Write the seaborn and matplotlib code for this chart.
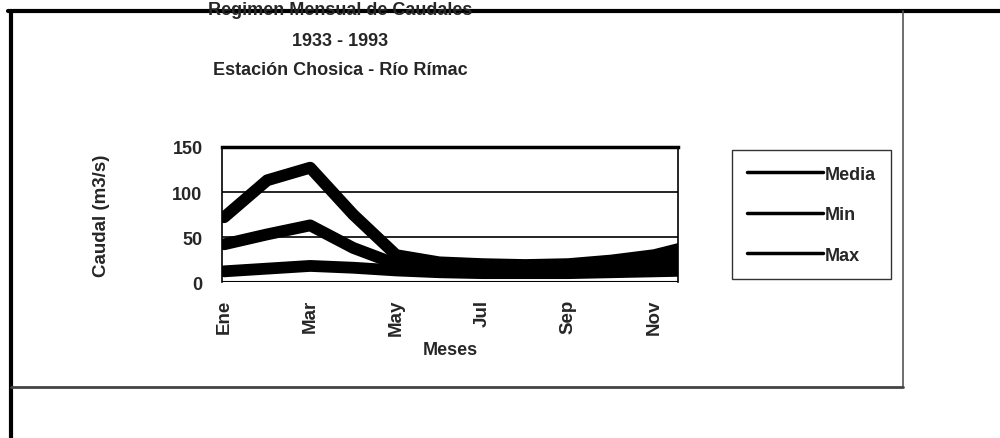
import numpy as np
import pandas as pd
import matplotlib.pyplot as plt
import seaborn as sns
from matplotlib.lines import Line2D

sns.set_theme(style='white')
plt.rcParams['font.family'] = ['Liberation Sans', 'DejaVu Sans']

meses = ['Ene', 'Feb', 'Mar', 'Abr', 'May', 'Jun', 'Jul', 'Ago', 'Sep', 'Oct', 'Nov', 'Dic']
media = [42, 53, 63, 38, 20, 16, 14, 13, 13, 15, 18, 30]
minimo = [12, 15, 18, 16, 13, 11, 10, 10, 10, 11, 12, 13]
maximo = [72, 113, 127, 75, 30, 22, 20, 19, 20, 24, 30, 42]

df = pd.DataFrame({
    'mes': list(range(12)) * 3,
    'caudal': media + minimo + maximo,
    'serie': ['Media'] * 12 + ['Min'] * 12 + ['Max'] * 12,
})


def main() -> None:

    fig = plt.figure(figsize=(10, 4.39), dpi=100)
    ax = fig.add_axes([0.222, 0.355, 0.456, 0.308])

    sns.lineplot(data=df, x='mes', y='caudal', hue='serie',
                 palette=['black', 'black', 'black'], linewidth=8.5,
                 ax=ax, legend=False)

    ax.set_xlim(-0.05, 10.55)
    ax.set_ylim(0, 150)
    ax.set_yticks([0, 50, 100, 150])
    ax.yaxis.grid(True, color='black', linewidth=1.2)
    ax.set_xticks(range(0, 12, 2))
    ax.set_xticklabels(meses[::2], rotation=90, fontsize=13.5, fontweight='bold')
    for t in ax.get_yticklabels():
        t.set_fontsize(13)
        t.set_fontweight('bold')
    ax.tick_params(axis='x', length=4, pad=8)
    ax.tick_params(axis='y', length=0, pad=14)
    ax.spines['bottom'].set_visible(False)
    ax.spines['top'].set_linewidth(2.5)
    ax.spines['left'].set_linewidth(1.2)
    ax.spines['right'].set_linewidth(1.2)
    for s in ['top', 'left', 'right']:
        ax.spines[s].set_color('black')
    ax.axhline(0, color='black', linewidth=1.5, zorder=5)

    ax.set_xlabel('Meses', fontsize=13, fontweight='bold', labelpad=4)
    ax.set_ylabel('Caudal (m3/s)', fontsize=13.5, fontweight='bold', labelpad=45)

    handles = [Line2D([0], [0], color='black', linewidth=2.5) for _ in range(3)]
    leg = fig.legend(handles, ['Media', 'Min', 'Max'], loc='upper left',
                     bbox_to_anchor=(0.732, 0.655), frameon=True, fancybox=False,
                     prop={'weight': 'bold', 'size': 13},
                     handlelength=4.2, labelspacing=1.3, borderpad=0.85,
                     handletextpad=0.1, borderaxespad=0)
    leg.get_frame().set_edgecolor('black')
    leg.get_frame().set_linewidth(1)

    fig.text(0.34, 0.975, 'Regimen Mensual de Caudales', ha='center', va='center',
             fontsize=13, fontweight='bold')
    fig.text(0.34, 0.905, '1933 - 1993', ha='center', va='center',
             fontsize=13, fontweight='bold')
    fig.text(0.34, 0.84, 'Estación Chosica - Río Rímac', ha='center', va='center',
             fontsize=13, fontweight='bold')

    # marco exterior
    fig.add_artist(Line2D([0.008, 1.0], [0.973, 0.973], color='black', linewidth=3))
    fig.add_artist(Line2D([0.011, 0.011], [0.0, 0.973], color='black', linewidth=3))
    fig.add_artist(Line2D([0.903, 0.903], [0.116, 0.973], color='#555555', linewidth=1.2))
    fig.add_artist(Line2D([0.011, 0.903], [0.116, 0.116], color='#444444', linewidth=2))

    fig.savefig('out.png', dpi=100)


if __name__ == '__main__': main()
